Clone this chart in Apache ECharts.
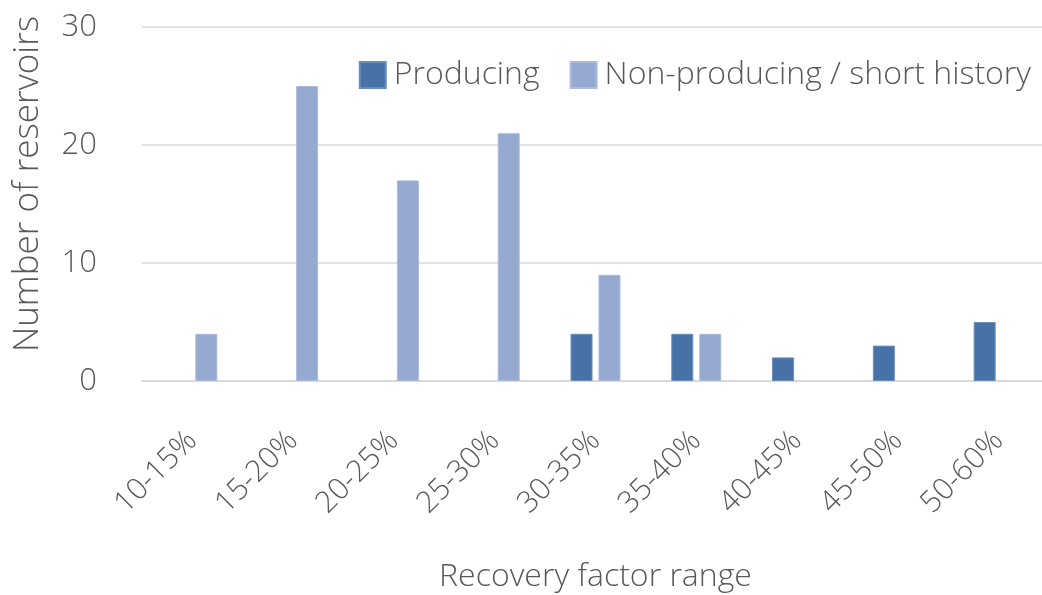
<!DOCTYPE html>
<html>
<head>
<meta charset="utf-8">
<script src="https://cdn.jsdelivr.net/npm/echarts@6/dist/echarts.min.js"></script>
<style>
  html, body { margin: 0; padding: 0; background: #fff; }
  #chart { width: 1042px; height: 595px; }
</style>
</head>
<body>
<div id="chart"></div>
<script>
const categories = ['10-15%', '15-20%', '20-25%', '25-30%', '30-35%', '35-40%', '40-45%', '45-50%', '50-60%'];
const producing = [null, null, null, null, 4, 4, 2, 3, 5];
const nonProducing = [4, 25, 17, 21, 9, 4, null, null, null];
const yTicks = [0, 10, 20, 30];

const font = '"Open Sans", "Noto Sans", sans-serif';
const textColor = '#595959';

const chart = echarts.init(document.getElementById('chart'));
chart.setOption({
  animation: false,
  textStyle: { fontFamily: font },
  // the plot runs a little past the right edge of the picture
  grid: { left: 142, top: 27, width: 907, bottom: 214, outerBoundsMode: 'none', containLabel: false },
  legend: {
    top: 54,
    right: 6,
    icon: 'rect',
    itemWidth: 26,
    itemHeight: 26,
    itemGap: 30,
    textStyle: { fontSize: 32, color: textColor, fontFamily: font, fontWeight: 300, padding: [0, 0, 0, 3] },
    data: ['Producing', 'Non-producing / short history']
  },
  xAxis: {
    type: 'category',
    data: categories,
    name: 'Recovery factor range',
    nameLocation: 'middle',
    nameGap: 180,
    nameTextStyle: { fontSize: 32, color: textColor, fontWeight: 300 },
    axisLine: { lineStyle: { color: '#d9d9d9', width: 2 } },
    axisTick: { show: false },
    axisLabel: { rotate: 45, fontSize: 30, color: textColor, margin: 55, fontWeight: 300 }
  },
  yAxis: {
    type: 'value',
    min: yTicks[0],
    max: yTicks[yTicks.length - 1],
    interval: 10,
    name: 'Number of reservoirs',
    nameLocation: 'middle',
    nameGap: 96,
    nameTextStyle: { fontSize: 35, color: textColor, fontWeight: 300, padding: [0, 0, 0, 40] },
    axisLine: { show: false },
    axisTick: { show: false },
    axisLabel: { fontSize: 31, color: textColor, margin: 45, fontWeight: 300 },
    splitLine: { lineStyle: { color: '#d9d9d9', width: 1.5 } }
  },
  series: [
    {
      name: 'Producing',
      type: 'bar',
      data: producing,
      barWidth: 22,
      barGap: '27%',
      itemStyle: { color: '#4672a7', borderColor: '#6b8dbb', borderWidth: 1 }
    },
    {
      name: 'Non-producing / short history',
      type: 'bar',
      data: nonProducing,
      barWidth: 22,
      itemStyle: { color: '#95a9d1', borderColor: '#aabbdc', borderWidth: 1 }
    }
  ]
});
</script>
</body>
</html>
